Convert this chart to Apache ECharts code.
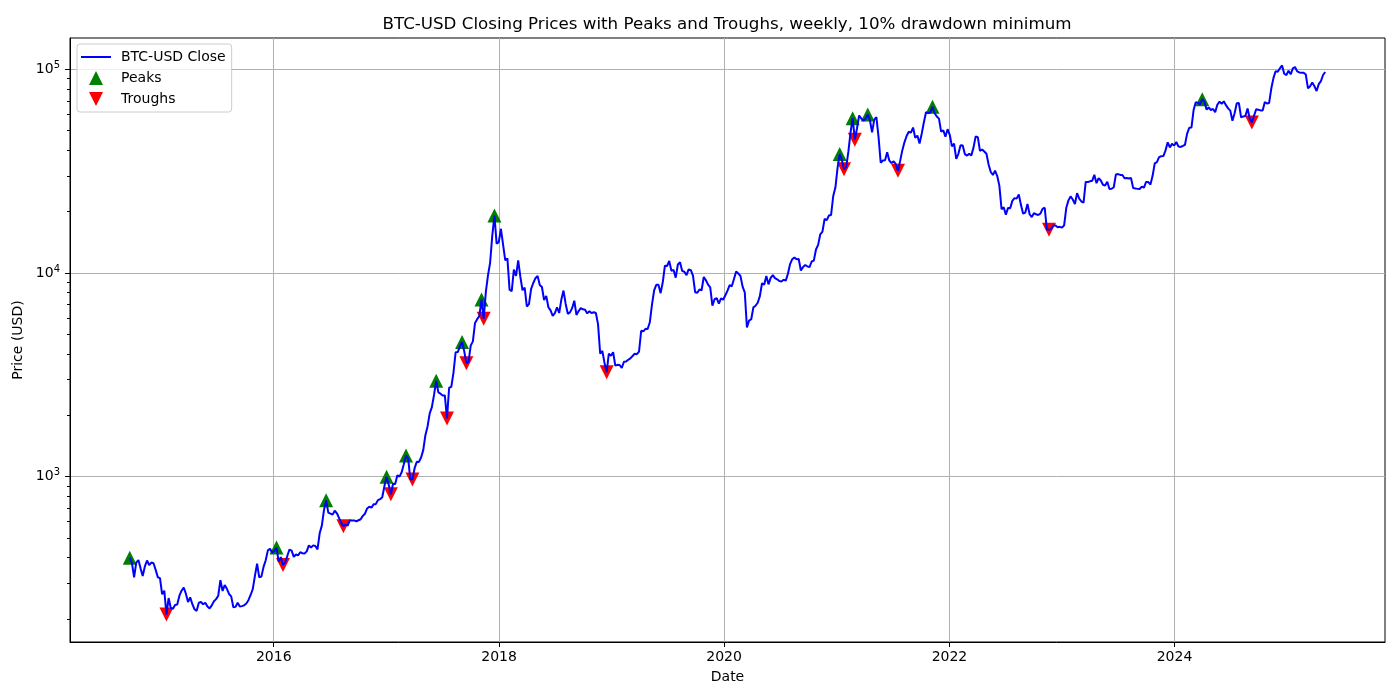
<!DOCTYPE html>
<html>
<head>
<meta charset="utf-8">
<title>BTC-USD weekly closes</title>
<script src="https://cdn.jsdelivr.net/npm/echarts@6/dist/echarts.min.js"></script>
<style>
  html, body { margin: 0; padding: 0; background: #fff; }
  #chart { width: 1400px; height: 700px; }
</style>
</head>
<body>
<div id="chart"></div>
<script>
// weekly closing prices, one value per week (week ending Sunday)
var firstWeek = '2014-09-21';

var close2014 = [399, 377, 320, 378, 389, 354, 325, 362, 387, 367, 378, 375, 348, 320, 317];
var close2015 = [264, 275, 210, 253, 226, 224, 234, 235, 260, 275, 285, 266, 242,
  255, 236, 223, 219, 240, 242, 236, 240, 230, 225, 233, 244, 250,
  260, 310, 274, 293, 281, 265, 258, 228, 229, 240, 230, 231, 233,
  238, 247, 262, 280, 325, 373, 320, 323, 360, 388, 434, 442, 422];
var close2016 = [431, 448, 382, 402, 368, 378, 407, 438, 433, 403, 414, 410, 425,
  420, 419, 429, 459, 448, 459, 456, 439, 526, 574, 684, 764, 665,
  658, 650, 679, 660, 625, 592, 570, 581, 574, 610, 608, 609, 602,
  610, 617, 641, 657, 697, 711, 703, 731, 732, 766, 774, 791, 896];
var close2017 = [998, 911, 818, 922, 920, 1015, 999, 1050, 1150, 1267, 1228, 970, 966,
  1099, 1181, 1180, 1240, 1348, 1597, 1763, 2042, 2191, 2518, 2953, 2589, 2552,
  2501, 2502, 1929, 2730, 2757, 3232, 4073, 4087, 4354, 4582, 4123, 3600, 3667,
  4394, 4610, 5680, 5930, 6131, 7407, 5950, 8040, 9733, 11246, 15290, 19140, 13925, 14156];
var close2018 = [16477, 13772, 11530, 11786, 8277, 8129, 10383, 9664, 11513, 9578, 8223, 8470,
  6844, 7023, 8355, 8925, 9420, 9654, 8723, 8528, 7355, 7714, 6786, 6545, 6160,
  6349, 6775, 6357, 7399, 8191, 7043, 6297, 6401, 6713, 7300, 6221, 6498, 6710, 6626,
  6602, 6329, 6490, 6348, 6411, 6359, 5607, 4009, 4139, 3614, 3252, 4015, 3923];
var close2019 = [4077, 3508, 3537, 3531, 3414, 3661, 3671, 3747, 3807, 3906, 4010, 3990, 4105,
  5200, 5167, 5312, 5300, 5725, 6990, 8200, 8743, 8743, 7955, 8994, 10855, 10817,
  11450, 10257, 10346, 9475, 11000, 11280, 10231, 10141, 9757, 10400, 10311, 9700, 8040,
  7988, 8290, 8224, 9552, 9205, 8757, 8500, 6900, 7424, 7510, 7068, 7500, 7388];
var close2020 = [7769, 8192, 8706, 8600, 9344, 10168, 9934, 9663, 8563, 8034, 5392, 5830, 5923,
  6776, 6898, 7136, 7693, 8897, 8756, 9670, 8791, 9450, 9758, 9427, 9303, 9117,
  9073, 9252, 9164, 9905, 11054, 11681, 11911, 11665, 11712, 10280, 10680, 10940, 10775,
  10670, 11380, 11500, 13030, 13740, 15480, 15960, 18400, 18180, 19150, 19270, 23870, 26270];
var close2021 = [32780, 38360, 35790, 32290, 33110, 39270, 48720, 57540, 45140, 51200, 59300, 57350, 55950,
  57060, 60000, 56200, 49000, 56620, 58230, 46430, 34770, 35680, 35800, 39100, 35600, 34650,
  35290, 34240, 31780, 35400, 39970, 43790, 47050, 49320, 48900, 51750, 46060, 47260, 43210,
  48230, 54970, 61550, 60930, 61320, 65500, 60800, 58620, 57270, 49400, 50100, 46680, 50800];
var close2022 = [47700, 41830, 43100, 36280, 38480, 42410, 42200, 38350, 37710, 38420, 37790, 41250, 46820,
  46410, 39720, 40400, 39470, 38470, 34060, 31300, 30290, 31790, 29900, 26760, 20550, 21030,
  19300, 20860, 20790, 22580, 23300, 23170, 24300, 21530, 19550, 19790, 21830, 19420, 18800,
  19630, 19420, 19260, 19570, 20630, 20900, 16330, 16290, 16460, 17110, 17100, 16760, 16840];
var close2023 = [16680, 17130, 20880, 22710, 23750, 22940, 21800, 24640, 23170, 22430, 22160, 27990, 27990,
  28170, 28330, 30310, 27590, 29230, 28430, 27100, 26850, 28070, 25840, 25910, 26340, 30480,
  30590, 30290, 30250, 29180, 29230, 29090, 29280, 26100, 26010, 25870, 25840, 26530, 26260,
  27980, 27940, 27150, 29990, 34530, 35040, 37060, 37390, 37480, 39980, 43780, 41370, 43020, 42270];
var close2024 = [43940, 41730, 41580, 42030, 42580, 48300, 51660, 51730, 63110, 68950, 68390, 67210, 71330,
  69360, 63430, 64940, 63110, 63900, 61480, 66940, 69390, 67750, 69650, 66680, 64260, 62680,
  55850, 60800, 68170, 68250, 58120, 58710, 58970, 64180, 57300, 54840, 59130, 63580, 63330,
  62820, 62850, 69000, 67930, 68370, 80470, 90540, 97900, 97200, 101170, 104460, 95100, 93740];
var close2025 = [98320, 94490, 101090, 102680, 97690, 96510, 96170, 96250, 94250, 80600, 82580, 86080, 82550,
  78200, 84540, 87520, 93750, 97000];

var peakWeeks = ['2014-09-21', '2016-01-10', '2016-06-19', '2017-01-01', '2017-03-05', '2017-06-11',
  '2017-09-03', '2017-11-05', '2017-12-17', '2021-01-10', '2021-02-21', '2021-04-11',
  '2021-11-07', '2024-03-31'];
var troughWeeks = ['2015-01-18', '2016-01-31', '2016-08-14', '2017-01-15', '2017-03-26', '2017-07-16',
  '2017-09-17', '2017-11-12', '2018-12-16', '2021-01-24', '2021-02-28', '2021-07-18',
  '2022-11-20', '2024-09-08'];

var yearTicks = ['2016-01-01', '2018-01-01', '2020-01-01', '2022-01-01', '2024-01-01'];
var decadeTicks = [1000, 10000, 100000];
var minorTicks = [200, 300, 400, 500, 600, 700, 800, 900,
  2000, 3000, 4000, 5000, 6000, 7000, 8000, 9000,
  20000, 30000, 40000, 50000, 60000, 70000, 80000, 90000];

var closes = [].concat(close2014, close2015, close2016, close2017, close2018, close2019,
  close2020, close2021, close2022, close2023, close2024, close2025);

var WEEK = 7 * 24 * 3600 * 1000;
function utc(d) { return Date.parse(d + 'T00:00:00Z'); }
var t0 = utc(firstWeek);

var lineData = closes.map(function (v, i) { return [t0 + i * WEEK, v]; });
function pick(weeks) {
  return weeks.map(function (d) {
    var i = Math.round((utc(d) - t0) / WEEK);
    return [utc(d), closes[i]];
  });
}

// matplotlib style 5% margins (log space for y)
var tEnd = t0 + (closes.length - 1) * WEEK;
var tPad = (tEnd - t0) * 0.05;
var lo = Math.log10(Math.min.apply(null, closes));
var hi = Math.log10(Math.max.apply(null, closes));
var yMin = Math.pow(10, lo - (hi - lo) * 0.05);
var yMax = Math.pow(10, hi + (hi - lo) * 0.05);

var font = 'DejaVu Sans';
var myChart = echarts.init(document.getElementById('chart'));

var option = {
  animation: false,
  backgroundColor: '#fff',
  textStyle: { fontFamily: font, color: '#000' },
  title: {
    text: 'BTC-USD Closing Prices with Peaks and Troughs, weekly, 10% drawdown minimum',
    left: 727, top: 16, padding: 0, textAlign: 'center',
    textStyle: { fontFamily: font, fontSize: 16.7, fontWeight: 'normal', color: '#000' }
  },
  legend: {
    orient: 'vertical', left: 77, top: 44,
    padding: [6, 6, 6, 4], itemWidth: 30, itemHeight: 14, itemGap: 7,
    symbolRotate: 0,
    backgroundColor: 'rgba(255,255,255,0.8)', borderColor: '#cccccc', borderWidth: 1, borderRadius: 3,
    textStyle: { fontFamily: font, fontSize: 14, color: '#000', padding: [0, 0, 0, 5] },
    data: [
      { name: 'BTC-USD Close', icon: 'path://M0,0 H30 V2 H0 Z' },
      { name: 'Peaks', icon: 'path://M5,0 L10,10 L0,10 Z' },
      { name: 'Troughs', icon: 'path://M0,0 L10,0 L5,10 Z' }
    ]
  },
  grid: { left: 70, right: 15, top: 38, bottom: 58, show: true, borderColor: '#000', borderWidth: 1 },
  xAxis: {
    type: 'value',
    min: t0 - tPad, max: tEnd + tPad,
    name: 'Date', nameLocation: 'middle', nameGap: 28,
    nameTextStyle: { fontFamily: font, fontSize: 14, color: '#000' },
    axisLine: { lineStyle: { color: '#000', width: 1 } },
    axisTick: { show: true, length: 5, lineStyle: { color: '#000' }, customValues: yearTicks.map(utc) },
    axisLabel: {
      customValues: yearTicks.map(utc), margin: 8,
      fontFamily: font, fontSize: 14, color: '#000',
      formatter: function (v) { return String(new Date(v).getUTCFullYear()); }
    },
    splitLine: { show: true, lineStyle: { color: '#b0b0b0', width: 1 } }
  },
  yAxis: [{
    type: 'log', min: yMin, max: yMax,
    name: 'Price (USD)', nameLocation: 'middle', nameGap: 38, nameRotate: 90,
    nameTextStyle: { fontFamily: font, fontSize: 14, color: '#000' },
    axisLine: { show: true, lineStyle: { color: '#000', width: 1 } },
    axisTick: { show: true, length: 5, lineStyle: { color: '#000' }, customValues: decadeTicks },
    axisLabel: {
      customValues: decadeTicks, margin: 10, padding: [0, 0, 4, 0],
      color: '#000',
      formatter: function (v) { return '{b|10}{e|' + Math.round(Math.log10(v)) + '}'; },
      rich: {
        b: { fontFamily: font, fontSize: 14, lineHeight: 14, padding: [4, 0, 0, 0], color: '#000' },
        e: { fontFamily: font, fontSize: 10, lineHeight: 10, verticalAlign: 'top', color: '#000' }
      }
    },
    splitLine: { show: true, lineStyle: { color: '#b0b0b0', width: 1 } }
  }, {
    // minor ticks only
    type: 'log', min: yMin, max: yMax, position: 'left',
    axisLine: { show: false },
    axisTick: { show: true, length: 3, lineStyle: { color: '#000' }, customValues: minorTicks },
    axisLabel: { show: false },
    splitLine: { show: false }
  }],
  series: [{
    name: 'BTC-USD Close',
    type: 'line',
    data: lineData,
    symbol: 'none',
    z: 3,
    color: '#0000ff',
    lineStyle: { color: '#0000ff', width: 2 }
  }, {
    name: 'Peaks',
    type: 'scatter',
    data: pick(peakWeeks),
    symbol: 'triangle',
    symbolSize: 14,
    z: 2,
    itemStyle: { color: '#008000', opacity: 1 }
  }, {
    name: 'Troughs',
    type: 'scatter',
    data: pick(troughWeeks),
    symbol: 'triangle',
    symbolRotate: 180,
    symbolSize: 14,
    z: 2,
    itemStyle: { color: '#ff0000', opacity: 1 }
  }]
};

myChart.setOption(option);
</script>
</body>
</html>
